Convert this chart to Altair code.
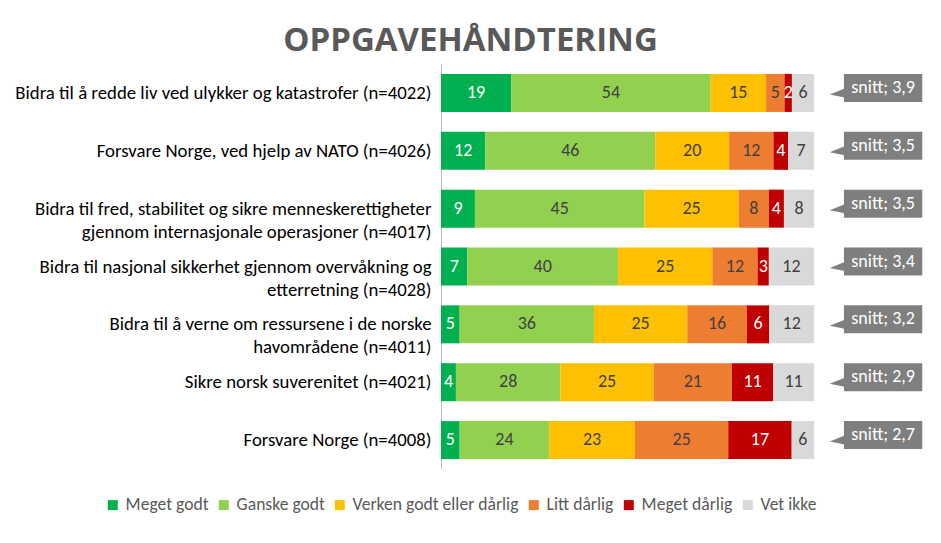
import altair as alt
import pandas as pd

questions = [
    "Bidra til å redde liv ved ulykker og katastrofer (n=4022)",
    "Forsvare Norge, ved hjelp av NATO (n=4026)",
    "Bidra til fred, stabilitet og sikre menneskerettigheter\ngjennom internasjonale operasjoner (n=4017)",
    "Bidra til nasjonal sikkerhet gjennom overvåkning og\netterretning (n=4028)",
    "Bidra til å verne om ressursene i de norske\nhavområdene (n=4011)",
    "Sikre norsk suverenitet (n=4021)",
    "Forsvare Norge (n=4008)",
]
categories = ["Meget godt", "Ganske godt", "Verken godt eller dårlig",
              "Litt dårlig", "Meget dårlig", "Vet ikke"]
colors = ["#00B050", "#92D050", "#FFC000", "#ED7D31", "#C00000", "#D9D9D9"]

meget_godt = [19, 12, 9, 7, 5, 4, 5]
ganske_godt = [54, 46, 45, 40, 36, 28, 24]
verken = [15, 20, 25, 25, 25, 25, 23]
litt_darlig = [5, 12, 8, 12, 16, 21, 25]
meget_darlig = [2, 4, 4, 3, 6, 11, 17]
vet_ikke = [6, 7, 8, 12, 12, 11, 6]
snitt = ["snitt; 3,9", "snitt; 3,5", "snitt; 3,5", "snitt; 3,4",
         "snitt; 3,2", "snitt; 2,9", "snitt; 2,7"]

series = [meget_godt, ganske_godt, verken, litt_darlig, meget_darlig, vet_ikke]
rows = []
for ci, (cat, vals) in enumerate(zip(categories, series)):
    for q, v in zip(questions, vals):
        rows.append({"question": q, "category": cat, "value": v, "order": ci})
df = pd.DataFrame(rows)

call = pd.DataFrame({"question": questions, "label": snitt,
                     "box_start": [1.08] * 7, "box_end": [1.29] * 7,
                     "text_x": [1.185] * 7, "tip_x": [1.062] * 7})

FONT = "Carlito, Lato"
xscale = alt.Scale(domain=[0, 1.3], nice=False, zero=True)
yscale = alt.Scale(domain=questions, paddingInner=0.343, paddingOuter=0.1715)

ychan = alt.Y("question:N", sort=questions, scale=yscale, title=None,
              axis=alt.Axis(labelExpr="split(datum.label, '\\n')", labelFontSize=18.8,
                            labelFont=FONT, labelColor="#000000", ticks=False,
                            labelPadding=10, labelLimit=600, domainColor="#BFBFBF",
                            labelLineHeight=23))

bars = alt.Chart(df).mark_bar().encode(
    x=alt.X("value:Q", stack="normalize", scale=xscale, axis=None),
    y=ychan,
    color=alt.Color("category:N", sort=categories,
                    scale=alt.Scale(domain=categories, range=colors),
                    legend=alt.Legend(title=None, orient="none", direction="horizontal",
                                      legendX=-337, legendY=432, symbolType="square",
                                      symbolSize=100, symbolStrokeWidth=0,
                                      labelFontSize=17.6, labelFont=FONT, labelLimit=400,
                                      labelColor="#595959", columnPadding=6,
                                      labelOffset=4)),
    order=alt.Order("order:Q"),
)

texts = alt.Chart(df).transform_joinaggregate(
    total="sum(value)", groupby=["question"]
).transform_window(
    cum="sum(value)", groupby=["question"], sort=[alt.SortField("order")], frame=[None, 0]
).transform_calculate(
    mid="(datum.cum - datum.value/2)/datum.total"
).mark_text(fontSize=18, font=FONT, baseline="middle", align="center").encode(
    x=alt.X("mid:Q", scale=xscale, axis=None),
    y=alt.Y("question:N", sort=questions, scale=yscale),
    text=alt.Text("value:Q"),
    color=alt.condition("datum.category == 'Meget godt' || datum.category == 'Meget dårlig'",
                        alt.value("white"), alt.value("#404040")),
)

tips = alt.Chart(call).mark_point(
    shape="M -1 0.2 L 1 -0.6 L 1.4 -0.6 L 1.4 0.6 L 1 0.6 Z", size=225, filled=True,
    opacity=1, color="#7F7F7F"
).encode(
    x=alt.X("tip_x:Q", scale=xscale, axis=None),
    y=alt.Y("question:N", sort=questions, scale=yscale),
)

boxes = alt.Chart(call).mark_bar(height=28, color="#7F7F7F", yOffset=-5).encode(
    x=alt.X("box_start:Q", scale=xscale, axis=None),
    x2="box_end:Q",
    y=alt.Y("question:N", sort=questions, scale=yscale),
)

box_text = alt.Chart(call).mark_text(fontSize=18, font=FONT, color="white",
                                      baseline="middle", dy=-5).encode(
    x=alt.X("text_x:Q", scale=xscale, axis=None),
    y=alt.Y("question:N", sort=questions, scale=yscale),
    text="label:N",
)

chart = alt.layer(bars, texts, tips, boxes, box_text).properties(
    width=485, height=405,
    title=alt.TitleParams("OPPGAVEHÅNDTERING", fontSize=33, font="Open Sans",
                          fontWeight="bold", color="#595959", anchor="middle",
                          offset=6, dx=-213),
    autosize=alt.AutoSizeParams(type="none"),
    padding={"left": 433, "top": 56, "right": 5, "bottom": 62},
).configure_view(stroke=None)

chart.save("out.html", embed_options={"renderer": "svg", "actions": False})
